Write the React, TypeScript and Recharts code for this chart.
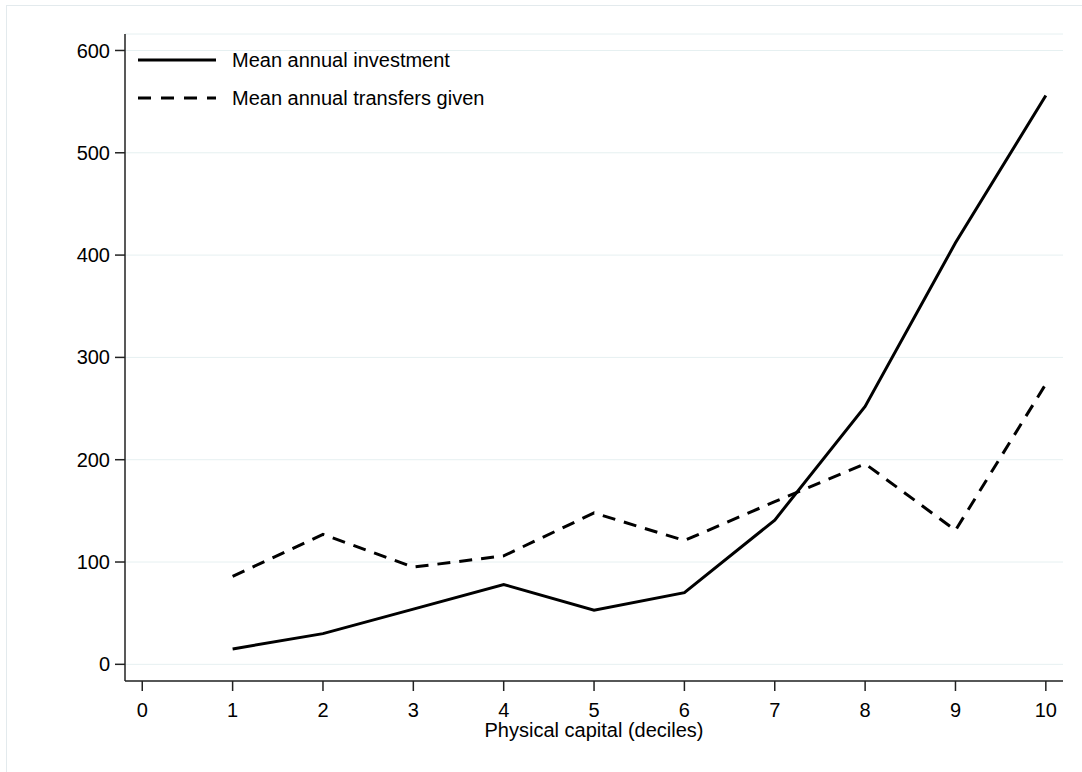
import React from 'react';
import {
  LineChart,
  Line,
  XAxis,
  YAxis,
  CartesianGrid,
  Legend,
} from 'recharts';

// deciles of physical capital
const deciles = [1, 2, 3, 4, 5, 6, 7, 8, 9, 10];
const investment = [15, 30, 54, 78, 53, 70, 141, 252, 412, 556];
const transfers = [86, 127, 95, 106, 148, 121, 159, 196, 131, 274];

const xTicks = [0, 1, 2, 3, 4, 5, 6, 7, 8, 9, 10];
const yTicks = [0, 100, 200, 300, 400, 500, 600];

const seriesNames = {
  investment: 'Mean annual investment',
  transfers: 'Mean annual transfers given',
};

const data = deciles.map((d, i) => ({
  decile: d,
  investment: investment[i],
  transfers: transfers[i],
}));

const FONT = '"Liberation Sans", Arial, Helvetica, sans-serif';
const DASH = '13 9';

const renderLegend = (props: any) => {
  const items = props.payload || [];
  return (
    <svg width={500} height={120} style={{ display: 'block' }}>
      {items.map((entry: any, i: number) => {
        const y = 60 + i * 38;
        const dashed = entry.dataKey === 'transfers';
        return (
          <g key={entry.dataKey}>
            <line
              x1={138}
              x2={216}
              y1={y}
              y2={y}
              stroke="#000"
              strokeWidth={3}
              strokeDasharray={dashed ? '13 10' : undefined}
            />
            <text x={232} y={y} dy="0.35em" fontSize={20} fontFamily={FONT} fill="#000">
              {entry.value}
            </text>
          </g>
        );
      })}
    </svg>
  );
};

const App: React.FC = () => {
  return (
    <div
      style={{
        position: 'absolute',
        left: 0,
        top: 0,
        width: 1082,
        height: 772,
        overflow: 'hidden',
        background: '#fff',
      }}
    >
      <div
        style={{
          position: 'absolute',
          left: 6,
          top: 5,
          width: 1200,
          height: 900,
          borderTop: '1px solid #e3eaed',
          borderLeft: '1px solid #e3eaed',
        }}
      />
      <div style={{ position: 'absolute', left: 0, top: 0 }}>
        <LineChart
          width={1082}
          height={772}
          data={data}
          margin={{ top: 34, right: 19, left: 0, bottom: 31 }}
        >
          <CartesianGrid vertical={false} stroke="#e6f0f1" strokeWidth={1} />
          <XAxis
            dataKey="decile"
            type="number"
            domain={[-0.191, 10.19]}
            allowDataOverflow
            ticks={xTicks}
            interval={0}
            height={60}
            tickSize={10}
            tickMargin={12}
            stroke="#222"
            strokeWidth={1.5}
            tick={{ fill: '#000', fontSize: 20, fontFamily: FONT }}
            label={{
              value: 'Physical capital (deciles)',
              position: 'insideBottom',
              offset: 4,
              fill: '#000',
              fontSize: 20,
              fontFamily: FONT,
            }}
          />
          <YAxis
            type="number"
            domain={[-16.3, 616.1]}
            allowDataOverflow
            ticks={yTicks}
            interval={0}
            width={125}
            tickSize={10}
            tickMargin={5}
            stroke="#222"
            strokeWidth={1.5}
            tick={{ fill: '#000', fontSize: 20, fontFamily: FONT }}
          />
          <Legend
            layout="vertical"
            verticalAlign="middle"
            align="center"
            wrapperStyle={{ left: 0, top: 0, width: 500, height: 120 }}
            content={renderLegend}
          />
          <Line
            type="linear"
            dataKey="investment"
            name={seriesNames.investment}
            stroke="#000"
            strokeWidth={3}
            dot={false}
            activeDot={false}
            isAnimationActive={false}
          />
          <Line
            type="linear"
            dataKey="transfers"
            name={seriesNames.transfers}
            stroke="#000"
            strokeWidth={3}
            strokeDasharray={DASH}
            dot={false}
            activeDot={false}
            isAnimationActive={false}
          />
        </LineChart>
      </div>
    </div>
  );
};

export default App;
